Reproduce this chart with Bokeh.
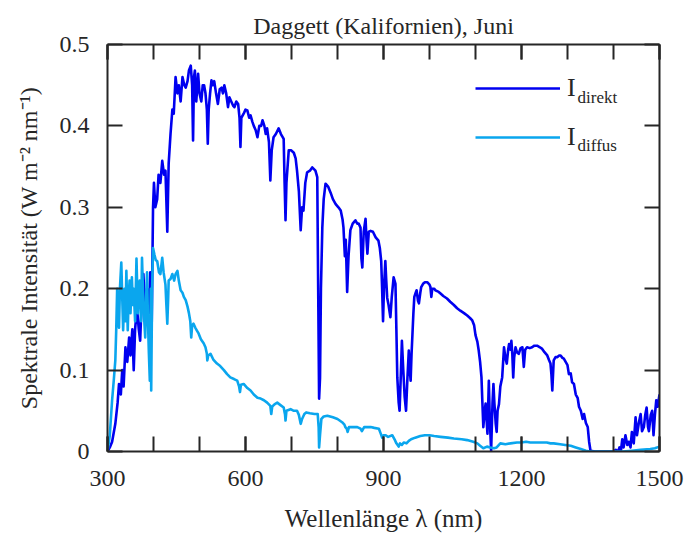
from bokeh.plotting import figure
from bokeh.models import (LinearAxis, FixedTicker, NumeralTickFormatter, Legend, LegendItem, Label)
from bokeh.embed import file_html
from bokeh.resources import INLINE

# ---------------- data ----------------
wl_direct = [300, 305, 310, 317, 322, 325, 329, 332, 335, 339, 343, 347, 350, 354, 357, 360, 364, 368, 371, 374,
             378, 382, 386, 390, 393, 396, 399, 401, 404, 408, 411, 415, 419, 423, 426, 430, 433, 437, 441, 444,
             448, 452, 455, 459, 463, 467, 470, 474, 477, 481, 484, 486, 488, 490, 493, 497, 500, 504, 507, 510,
             513, 516, 518, 520, 523, 526, 529, 532, 536, 540, 544, 548, 551, 554, 558, 562, 565, 569, 573, 576,
             580, 584, 587, 589, 591, 596, 600, 604, 608, 611, 615, 618, 622, 626, 630, 634, 637, 641, 644, 647,
             651, 654, 657, 661, 666, 672, 677, 683, 685, 687, 689, 694, 699, 705, 709, 712, 716, 720, 723, 726,
             730, 734, 740, 745, 752, 756, 758, 760, 762, 764, 767, 770, 774, 780, 785, 790, 796, 802, 807, 811,
             813, 816, 818, 821, 824, 828, 833, 839, 843, 846, 850, 852, 854, 857, 861, 863, 865, 868, 872, 877,
             883, 889, 892, 895, 897, 899, 901, 904, 906, 908, 911, 915, 918, 922, 926, 928, 930, 933, 935, 938,
             940, 943, 946, 949, 952, 955, 957, 959, 961, 963, 965, 967, 970, 972, 975, 977, 980, 982, 986, 990,
             995, 1000, 1002, 1004, 1006, 1010, 1013, 1020, 1024, 1030, 1038, 1045, 1053, 1060, 1067, 1075, 1082, 1088, 1093, 1097,
             1100, 1104, 1107, 1110, 1113, 1115, 1117, 1120, 1122, 1124, 1126, 1129, 1131, 1134, 1137, 1139, 1141, 1144, 1146, 1148,
             1151, 1154, 1158, 1162, 1165, 1168, 1171, 1173, 1176, 1178, 1180, 1182, 1184, 1187, 1190, 1194, 1198, 1202, 1205, 1208,
             1212, 1218, 1223, 1228, 1234, 1240, 1245, 1250, 1256, 1260, 1263, 1265, 1267, 1269, 1270, 1274, 1278, 1282, 1285, 1289,
             1292, 1296, 1300, 1303, 1307, 1310, 1314, 1318, 1322, 1325, 1329, 1333, 1336, 1340, 1344, 1347, 1350, 1360, 1380, 1400,
             1405, 1410, 1413, 1416, 1419, 1422, 1426, 1430, 1433, 1437, 1440, 1444, 1448, 1451, 1455, 1459, 1462, 1466, 1469, 1472,
             1475, 1477, 1481, 1484, 1487, 1490, 1493, 1496, 1500]
i_direct = [0.0, 0.005, 0.012, 0.034, 0.06, 0.083, 0.07, 0.1, 0.08, 0.128, 0.11, 0.14, 0.118, 0.15, 0.10, 0.15, 0.177, 0.15, 0.136, 0.18,
            0.218, 0.17, 0.2, 0.17, 0.22, 0.15, 0.3, 0.33, 0.30, 0.31, 0.34, 0.33, 0.357, 0.34, 0.345, 0.27, 0.354, 0.39, 0.42, 0.415,
            0.46, 0.44, 0.45, 0.43, 0.46, 0.45, 0.447, 0.455, 0.468, 0.474, 0.45, 0.382, 0.46, 0.468, 0.43, 0.464, 0.44, 0.43, 0.45, 0.45,
            0.44, 0.42, 0.378, 0.42, 0.44, 0.456, 0.45, 0.455, 0.44, 0.427, 0.445, 0.447, 0.44, 0.45, 0.44, 0.423, 0.435, 0.43, 0.425, 0.423,
            0.43, 0.427, 0.41, 0.374, 0.41, 0.415, 0.42, 0.419, 0.41, 0.413, 0.405, 0.40, 0.395, 0.386, 0.40, 0.40, 0.407, 0.40, 0.39, 0.397,
            0.38, 0.333, 0.37, 0.386, 0.39, 0.397, 0.39, 0.384, 0.33, 0.284, 0.33, 0.37, 0.37, 0.367, 0.36, 0.345, 0.32, 0.272, 0.30, 0.296,
            0.33, 0.343, 0.345, 0.349, 0.345, 0.337, 0.2, 0.065, 0.09, 0.2, 0.275, 0.31, 0.329, 0.325, 0.318, 0.31, 0.304, 0.30, 0.296, 0.285,
            0.275, 0.24, 0.26, 0.196, 0.24, 0.272, 0.28, 0.284, 0.28, 0.28, 0.275, 0.237, 0.226, 0.27, 0.286, 0.26, 0.243, 0.27, 0.271, 0.27,
            0.263, 0.259, 0.25, 0.234, 0.2, 0.16, 0.2, 0.234, 0.21, 0.189, 0.18, 0.165, 0.19, 0.214, 0.206, 0.15, 0.091, 0.06, 0.05, 0.1,
            0.136, 0.1, 0.067, 0.05, 0.09, 0.124, 0.1, 0.087, 0.12, 0.145, 0.17, 0.19, 0.195, 0.198, 0.185, 0.182, 0.195, 0.202, 0.206, 0.208,
            0.208, 0.205, 0.202, 0.19, 0.2, 0.2, 0.198, 0.196, 0.194, 0.191, 0.188, 0.184, 0.18, 0.176, 0.173, 0.17, 0.167, 0.164, 0.161, 0.155,
            0.143, 0.135, 0.124, 0.11, 0.091, 0.06, 0.03, 0.05, 0.059, 0.04, 0.022, 0.087, 0.04, 0.001, 0.06, 0.083, 0.06, 0.034, 0.024, 0.05,
            0.058, 0.08, 0.091, 0.128, 0.115, 0.108, 0.125, 0.132, 0.125, 0.136, 0.12, 0.091, 0.115, 0.128, 0.122, 0.12, 0.127, 0.128, 0.104, 0.125,
            0.128, 0.127, 0.128, 0.13, 0.13, 0.128, 0.126, 0.122, 0.118, 0.112, 0.108, 0.095, 0.075, 0.1, 0.112, 0.116, 0.116, 0.118, 0.118, 0.115,
            0.114, 0.11, 0.106, 0.095, 0.096, 0.085, 0.083, 0.07, 0.066, 0.055, 0.05, 0.04, 0.046, 0.035, 0.03, 0.012, 0.001, 0.0, 0.0, 0.0,
            0.002, 0.0, 0.005, 0.0, 0.015, 0.005, 0.02, 0.008, 0.012, 0.005, 0.024, 0.01, 0.042, 0.02, 0.035, 0.046, 0.025, 0.03, 0.045, 0.054,
            0.03, 0.025, 0.045, 0.05, 0.02, 0.045, 0.063, 0.055, 0.07]

wl_diffuse = [300, 305, 310, 314, 317, 319, 321, 323, 325, 327, 330, 332, 334, 337, 339, 341, 344, 346, 348, 350,
              353, 355, 357, 360, 363, 366, 368, 370, 373, 375, 377, 379, 382, 384, 386, 388, 390, 392, 394, 395,
              397, 399, 402, 405, 408, 412, 415, 419, 422, 426, 428, 430, 432, 433, 437, 441, 445, 448, 452, 455,
              459, 463, 466, 470, 474, 477, 480, 482, 484, 487, 491, 495, 498, 503, 509, 513, 516, 517, 519, 524,
              530, 538, 545, 553, 560, 567, 575, 582, 586, 588, 590, 596, 604, 611, 618, 626, 633, 640, 647, 654,
              656, 658, 663, 669, 676, 683, 686, 687, 689, 698, 705, 712, 716, 720, 723, 728, 732, 740, 750, 757,
              759, 760, 762, 765, 770, 778, 790, 800, 810, 815, 817, 820, 822, 825, 835, 843, 850, 853, 858, 864,
              872, 880, 890, 894, 897, 900, 904, 910, 919, 924, 928, 933, 936, 940, 944, 950, 955, 960, 969, 980,
              990, 1000, 1010, 1024, 1040, 1053, 1070, 1082, 1095, 1104, 1110, 1117, 1125, 1132, 1140, 1146, 1154, 1165, 1176, 1190,
              1200, 1210, 1219, 1230, 1241, 1255, 1263, 1270, 1284, 1295, 1307, 1318, 1329, 1340, 1350, 1380, 1420, 1440, 1459, 1480,
              1490, 1500]
i_diffuse = [0.0, 0.02, 0.063, 0.09, 0.112, 0.15, 0.2, 0.17, 0.152, 0.2, 0.232, 0.19, 0.149, 0.2, 0.16, 0.222, 0.149, 0.19, 0.21, 0.17,
             0.214, 0.18, 0.2, 0.16, 0.237, 0.17, 0.2, 0.21, 0.16, 0.238, 0.2, 0.17, 0.14, 0.19, 0.22, 0.16, 0.12, 0.087, 0.2, 0.075,
             0.2, 0.25, 0.242, 0.235, 0.234, 0.22, 0.218, 0.238, 0.22, 0.205, 0.18, 0.157, 0.19, 0.21, 0.212, 0.218, 0.21, 0.218, 0.222, 0.21,
             0.198, 0.195, 0.19, 0.186, 0.178, 0.17, 0.16, 0.14, 0.155, 0.157, 0.152, 0.148, 0.145, 0.138, 0.133, 0.128, 0.12, 0.112, 0.118, 0.12,
             0.113, 0.108, 0.105, 0.1, 0.095, 0.091, 0.089, 0.087, 0.08, 0.073, 0.082, 0.083, 0.078, 0.075, 0.07, 0.066, 0.065, 0.063, 0.06, 0.056,
             0.046, 0.055, 0.058, 0.06, 0.057, 0.054, 0.045, 0.038, 0.05, 0.052, 0.05, 0.05, 0.045, 0.034, 0.04, 0.046, 0.048, 0.047, 0.046, 0.046,
             0.03, 0.005, 0.02, 0.04, 0.043, 0.044, 0.042, 0.04, 0.036, 0.033, 0.03, 0.028, 0.024, 0.03, 0.03, 0.03, 0.028, 0.025, 0.03, 0.03,
             0.03, 0.029, 0.028, 0.022, 0.017, 0.02, 0.02, 0.018, 0.02, 0.015, 0.01, 0.006, 0.01, 0.008, 0.011, 0.01, 0.013, 0.015, 0.017, 0.019,
             0.02, 0.02, 0.019, 0.018, 0.017, 0.016, 0.015, 0.014, 0.012, 0.01, 0.007, 0.004, 0.006, 0.005, 0.004, 0.005, 0.01, 0.009, 0.01, 0.011,
             0.011, 0.012, 0.011, 0.011, 0.011, 0.011, 0.01, 0.01, 0.009, 0.008, 0.007, 0.005, 0.003, 0.001, 0.0, 0.0, 0.0, 0.001, 0.002, 0.003,
             0.004, 0.006]

x_labels = [300, 600, 900, 1200, 1500]
x_minor = [300, 400, 500, 600, 700, 800, 900, 1000, 1100, 1200, 1300, 1400, 1500]
y_ticks = [0, 0.1, 0.2, 0.3, 0.4, 0.5]

title_text = "Daggett (Kalifornien), Juni"
x_title = "Wellenlänge λ (nm)"
y_title = "Spektrale Intensität (W m⁻² nm⁻¹)"
series_main = ["I", "I"]
series_sub = ["direkt", "diffus"]

# --------------- styles ---------------
FONT = "Liberation Serif"
INK = "#262626"
C_DIRECT = "#0000f0"
C_DIFFUSE = "#0aa6ee"

p = figure(width=684, height=534, x_range=(300, 1500), y_range=(0, 0.5),
           output_backend="svg", toolbar_location=None,
           min_border_left=107, min_border_right=25, min_border_top=44, min_border_bottom=83)
p.title.text = title_text
p.title.text_font = FONT
p.title.text_font_size = "24px"
p.title.text_font_style = "normal"
p.title.text_color = INK
p.title.align = "center"
p.title.standoff = 12
p.xgrid.visible = False
p.ygrid.visible = False
p.outline_line_color = None
p.background_fill_color = "white"
p.border_fill_color = "white"

xt = FixedTicker(ticks=x_labels, minor_ticks=x_minor)
yt = FixedTicker(ticks=y_ticks, minor_ticks=[])


def style_axis(ax, labels=True):
    ax.axis_line_color = INK
    ax.axis_line_width = 2
    ax.major_tick_line_color = INK
    ax.major_tick_line_width = 2
    ax.minor_tick_line_color = INK
    ax.minor_tick_line_width = 2
    ax.major_tick_in = 15
    ax.major_tick_out = 0
    ax.minor_tick_in = 15
    ax.minor_tick_out = 0
    if labels:
        ax.major_label_text_font = FONT
        ax.major_label_text_font_size = "24px"
        ax.major_label_text_color = INK
        ax.axis_label_text_font = FONT
        ax.axis_label_text_font_size = "24px"
        ax.axis_label_text_font_style = "normal"
        ax.axis_label_text_color = INK
    else:
        ax.major_label_text_font_size = "1px"
        ax.major_label_text_color = None
        ax.major_label_standoff = 0


xa = p.xaxis[0]
xa.ticker = xt
xa.axis_label = x_title
style_axis(xa)
xa.axis_label_text_font_size = "25px"
xa.major_label_standoff = 19
xa.axis_label_standoff = 16

ya = p.yaxis[0]
ya.ticker = yt
ya.formatter = NumeralTickFormatter(format="0.[0]")
ya.axis_label = y_title
style_axis(ya)
ya.major_label_standoff = 18
ya.axis_label_standoff = 15

top = LinearAxis(ticker=FixedTicker(ticks=x_labels, minor_ticks=x_minor))
style_axis(top, labels=False)
p.add_layout(top, "above")
right = LinearAxis(ticker=FixedTicker(ticks=y_ticks, minor_ticks=[]))
style_axis(right, labels=False)
p.add_layout(right, "right")

r1 = p.line(wl_direct, i_direct, line_color=C_DIRECT, line_width=2.6, line_join="round")
r2 = p.line(wl_diffuse, i_diffuse, line_color=C_DIFFUSE, line_width=2.6, line_join="round")

legend = Legend(items=[LegendItem(label=series_main[0], renderers=[r1]),
                       LegendItem(label=series_main[1], renderers=[r2])],
                location=(368, 299), padding=0, margin=0, spacing=19,
                glyph_width=85, glyph_height=20, label_height=20, label_standoff=7,
                label_text_font=FONT, label_text_font_size="26px", label_text_color=INK,
                border_line_alpha=0, background_fill_alpha=0)
p.add_layout(legend, "center")

for k, (xs, ys) in enumerate([(1322, 0.435), (1322, 0.376)]):
    p.add_layout(Label(x=xs, y=ys, text=series_sub[k], text_font=FONT, text_font_size="17px",
                       text_color=INK, text_align="left", text_baseline="alphabetic"))

open("out.html", "w").write(file_html(p, INLINE))
